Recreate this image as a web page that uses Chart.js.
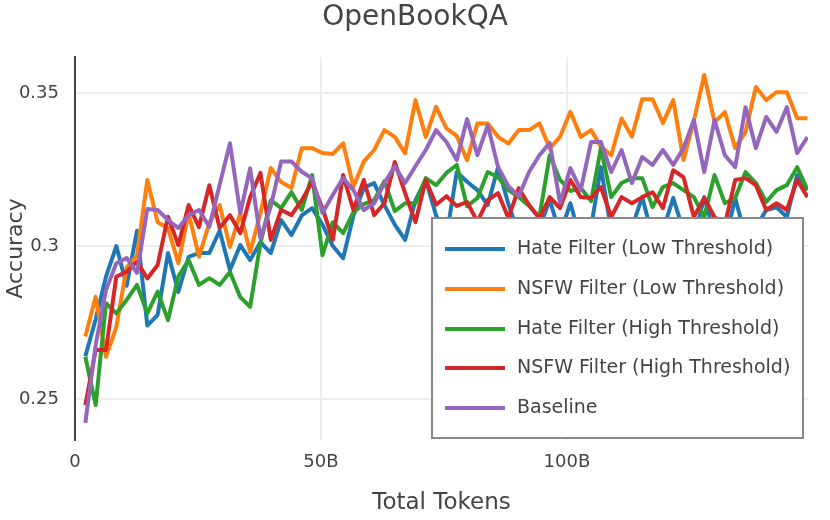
<!DOCTYPE html>
<html>
<head>
<meta charset="utf-8">
<script src="https://cdn.jsdelivr.net/npm/chart.js@4.4.1/dist/chart.umd.min.js"></script>
<style>
  html, body { margin: 0; padding: 0; background: #fff; }
  #wrap { width: 830px; height: 520px; position: relative; }
</style>
</head>
<body>
<div id="wrap"><canvas id="c"></canvas></div>
<script>
// Total tokens (billions) at each checkpoint
const tokens = [2.1, 4.2, 6.3, 8.4, 10.5, 12.6, 14.7, 16.8, 18.9, 21.0,
  23.1, 25.2, 27.3, 29.4, 31.5, 33.6, 35.6, 37.7, 39.8, 41.9,
  44.0, 46.1, 48.2, 50.3, 52.4, 54.5, 56.6, 58.7, 60.8, 62.9,
  65.0, 67.1, 69.2, 71.3, 73.4, 75.5, 77.6, 79.7, 81.8, 83.9,
  86.0, 88.1, 90.2, 92.3, 94.4, 96.5, 98.6, 100.7, 102.8, 104.9,
  106.9, 109.0, 111.1, 113.2, 115.3, 117.4, 119.5, 121.6, 123.7, 125.8,
  127.9, 130.0, 132.1, 134.2, 136.3, 138.4, 140.5, 142.6, 144.7, 146.8, 148.9];

const hateLow = [0.264, 0.276, 0.290, 0.300, 0.287, 0.305, 0.274, 0.2775, 0.2977, 0.285,
  0.2965, 0.2977, 0.2977, 0.305, 0.2922, 0.3003, 0.2954, 0.3013, 0.2977, 0.3085,
  0.3036, 0.310, 0.3124, 0.307, 0.300, 0.296, 0.310, 0.319, 0.3206, 0.3134,
  0.307, 0.302, 0.315, 0.3216, 0.310, 0.303, 0.3242, 0.321, 0.3183, 0.3134,
  0.3258, 0.3137, 0.304, 0.300, 0.306, 0.315, 0.304, 0.314, 0.302, 0.306,
  0.3258, 0.305, 0.300, 0.306, 0.316, 0.303, 0.305, 0.3157, 0.305, 0.302,
  0.316, 0.304, 0.301, 0.3157, 0.303, 0.306, 0.3118, 0.3127, 0.3095, 0.3232, 0.3183];

const nsfwLow = [0.2704, 0.2834, 0.2638, 0.2736, 0.293, 0.297, 0.3216, 0.3078, 0.3059, 0.2944,
  0.3108, 0.2965, 0.3075, 0.3134, 0.2997, 0.3108, 0.298, 0.3108, 0.3255, 0.3209,
  0.319, 0.332, 0.332, 0.3304, 0.3301, 0.3336, 0.3194, 0.3276, 0.3314, 0.3379,
  0.3357, 0.3303, 0.3477, 0.3357, 0.3455, 0.3385, 0.336, 0.3281, 0.3401, 0.3401,
  0.3357, 0.3335, 0.3379, 0.3379, 0.3401, 0.3319, 0.3357, 0.3439, 0.3357, 0.3379,
  0.3325, 0.3297, 0.3417, 0.3357, 0.348, 0.348, 0.3402, 0.3477, 0.3281, 0.341,
  0.3559, 0.3405, 0.3438, 0.332, 0.3373, 0.352, 0.3477, 0.3503, 0.3503, 0.3418, 0.3418];

const hateHigh = [0.2638, 0.248, 0.2813, 0.278, 0.2824, 0.2873, 0.278, 0.2851, 0.2758, 0.290,
  0.2954, 0.2873, 0.2895, 0.2873, 0.2915, 0.2833, 0.2801, 0.301, 0.315, 0.3124,
  0.3176, 0.3118, 0.3232, 0.297, 0.3078, 0.3042, 0.3111, 0.3137, 0.315, 0.3212,
  0.3114, 0.314, 0.314, 0.3222, 0.3199, 0.3239, 0.3265, 0.313, 0.3157, 0.3242,
  0.3225, 0.3183, 0.316, 0.3131, 0.3095, 0.3297, 0.3216, 0.318, 0.319, 0.3147,
  0.332, 0.316, 0.3206, 0.3222, 0.3222, 0.3127, 0.3193, 0.3206, 0.3183, 0.316,
  0.3095, 0.3232, 0.314, 0.3157, 0.3242, 0.3206, 0.3144, 0.3183, 0.3199, 0.3258, 0.3183];

const nsfwHigh = [0.248, 0.266, 0.266, 0.290, 0.2916, 0.2949, 0.2894, 0.2938, 0.3096, 0.3003,
  0.3134, 0.3062, 0.3199, 0.3059, 0.3101, 0.3042, 0.316, 0.3239, 0.302, 0.3118,
  0.3101, 0.315, 0.3209, 0.3124, 0.302, 0.3232, 0.3118, 0.3216, 0.3101, 0.314,
  0.3275, 0.3173, 0.3078, 0.3216, 0.3135, 0.3163, 0.3131, 0.3144, 0.308, 0.315,
  0.3173, 0.3092, 0.3189, 0.3134, 0.309, 0.316, 0.3124, 0.3216, 0.316, 0.3157,
  0.3193, 0.3095, 0.316, 0.314, 0.316, 0.3176, 0.3124, 0.3248, 0.3225, 0.3095,
  0.3157, 0.3095, 0.307, 0.3216, 0.3222, 0.3199, 0.3118, 0.314, 0.3118, 0.3216, 0.316];

const baseline = [0.2422, 0.2676, 0.2856, 0.2944, 0.2961, 0.2912, 0.3121, 0.3118, 0.3085, 0.3059,
  0.3101, 0.3118, 0.3063, 0.320, 0.3336, 0.3107, 0.3254, 0.3025, 0.313, 0.3276,
  0.3276, 0.3243, 0.3221, 0.3108, 0.3167, 0.3222, 0.3183, 0.3118, 0.314, 0.3206,
  0.3261, 0.3206, 0.3261, 0.3314, 0.3379, 0.334, 0.3281, 0.3415, 0.3297, 0.3395,
  0.3258, 0.3196, 0.3163, 0.3242, 0.3297, 0.3337, 0.3141, 0.3255, 0.3183, 0.334,
  0.334, 0.3242, 0.3314, 0.3206, 0.3291, 0.3265, 0.3314, 0.3265, 0.332, 0.3412,
  0.3242, 0.3412, 0.3297, 0.3258, 0.3454, 0.332, 0.3422, 0.3373, 0.3454, 0.3304, 0.3356];

const seriesNames = ['Hate Filter (Low Threshold)', 'NSFW Filter (Low Threshold)',
  'Hate Filter (High Threshold)', 'NSFW Filter (High Threshold)', 'Baseline'];
const seriesColors = ['#1f77b4', '#ff7f0e', '#2ca02c', '#d62728', '#9467bd'];
const yTickValues = [0.25, 0.3, 0.35];
const yTickLabels = ['0.25', '0.3', '0.35'];
const xTickValues = [0, 50, 100];
const xTickLabels = ['0', '50B', '100B'];
const chartTitle = 'OpenBookQA';
const xTitle = 'Total Tokens';
const yTitle = 'Accuracy';

const seriesValues = [hateLow, nsfwLow, hateHigh, nsfwHigh, baseline];
const FONT = "'DejaVu Sans', Verdana, sans-serif";
const TXT = '#444';

const datasets = seriesValues.map((vals, i) => ({
  label: seriesNames[i],
  data: vals.map((v, j) => ({ x: tokens[j], y: v })),
  borderColor: seriesColors[i],
  backgroundColor: seriesColors[i],
  borderWidth: 4,
  pointRadius: 0,
  tension: 0,
  borderJoinStyle: 'round',
  fill: false,
  order: seriesValues.length - i
}));

const overlay = {
  id: 'overlay',
  afterDraw(chart) {
    const ctx = chart.ctx;
    ctx.save();
    // Title
    ctx.fillStyle = TXT;
    ctx.font = "28px " + FONT;
    ctx.textAlign = 'center';
    ctx.textBaseline = 'middle';
    ctx.fillText(chartTitle, 415, 18);
    // Legend box
    const bx = 432, by = 218, bw = 371, bh = 220;
    ctx.fillStyle = '#fff';
    ctx.fillRect(bx, by, bw, bh);
    ctx.strokeStyle = '#888';
    ctx.lineWidth = 2;
    ctx.strokeRect(bx, by, bw, bh);
    ctx.font = "19px " + FONT;
    ctx.textAlign = 'left';
    ctx.textBaseline = 'middle';
    const rowY = [249, 289, 329, 368, 408];
    chart.data.datasets.forEach((ds, i) => {
      const yy = rowY[i];
      ctx.strokeStyle = ds.borderColor;
      ctx.lineWidth = 4;
      ctx.beginPath();
      ctx.moveTo(445, yy);
      ctx.lineTo(505, yy);
      ctx.stroke();
      ctx.fillStyle = TXT;
      ctx.fillText(ds.label, 517, yy);
    });
    ctx.restore();
  }
};

new Chart(document.getElementById('c'), {
  type: 'line',
  data: { datasets },
  plugins: [overlay],
  options: {
    responsive: true,
    maintainAspectRatio: false,
    animation: false,
    layout: { padding: { left: 0, right: 22, top: 57, bottom: 0 } },
    plugins: { legend: { display: false }, title: { display: false }, tooltip: { enabled: false } },
    scales: {
      x: {
        type: 'linear',
        min: 0,
        max: 149,
        afterFit(s) { s.height = 80; },
        afterBuildTicks(s) { s.ticks = xTickValues.map(v => ({ value: v })); },
        ticks: {
          color: TXT,
          font: { family: FONT, size: 18 },
          padding: 12,
          maxRotation: 0,
          callback: (v) => xTickLabels[xTickValues.indexOf(v)]
        },
        grid: { color: '#eeeeee', lineWidth: 2, drawTicks: false },
        border: { display: false },
        title: { display: true, text: xTitle, color: TXT, font: { family: FONT, size: 23 }, padding: { top: 0, bottom: 3 } }
      },
      y: {
        min: 0.2366,
        max: 0.3618,
        afterFit(s) { s.width = 75; },
        afterBuildTicks(s) { s.ticks = yTickValues.map(v => ({ value: v })); },
        ticks: {
          color: TXT,
          font: { family: FONT, size: 18 },
          padding: 16,
          callback: (v) => yTickLabels[yTickValues.indexOf(v)]
        },
        grid: { color: '#eeeeee', lineWidth: 2, drawTicks: false },
        border: { display: true, color: '#444', width: 2 },
        title: { display: true, text: yTitle, color: TXT, font: { family: FONT, size: 22 }, padding: { top: 3, bottom: 0 } }
      }
    }
  }
});
</script>
</body>
</html>
